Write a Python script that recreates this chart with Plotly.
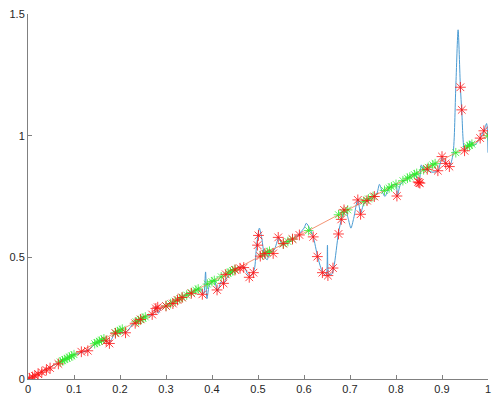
import plotly.graph_objects as go

# Blue interpolated curve (knots)
curve_x = [0.0, 0.05, 0.1, 0.13, 0.15, 0.165, 0.175, 0.185, 0.19, 0.205, 0.215, 0.23, 0.26,
           0.272, 0.278, 0.283, 0.29, 0.32, 0.35, 0.375, 0.382, 0.386, 0.389, 0.395, 0.405,
           0.412, 0.42, 0.425, 0.43, 0.45, 0.46, 0.47, 0.478, 0.485, 0.492, 0.497, 0.503,
           0.508, 0.515, 0.52, 0.525, 0.535, 0.545, 0.553, 0.56, 0.58, 0.60, 0.605, 0.612,
           0.62, 0.63, 0.64, 0.648, 0.651, 0.654, 0.66, 0.665, 0.675, 0.682, 0.69, 0.696,
           0.702, 0.708, 0.717, 0.723, 0.73, 0.74, 0.75, 0.758, 0.764, 0.77, 0.776, 0.785,
           0.80, 0.803, 0.81, 0.84, 0.85, 0.855, 0.86, 0.868, 0.878, 0.891, 0.90, 0.908,
           0.916, 0.924, 0.930, 0.935, 0.940, 0.943, 0.949, 0.955, 0.962, 0.97, 0.983, 0.991,
           0.997, 1.0]
curve_y = [0.0, 0.05, 0.1, 0.118, 0.15, 0.16, 0.145, 0.175, 0.19, 0.19, 0.195, 0.23, 0.26,
           0.265, 0.30, 0.27, 0.29, 0.32, 0.35, 0.37, 0.35, 0.44, 0.33, 0.39, 0.405,
           0.36, 0.40, 0.39, 0.41, 0.45, 0.46, 0.46, 0.43, 0.425, 0.45, 0.55, 0.62,
           0.58, 0.50, 0.49, 0.52, 0.53, 0.58, 0.55, 0.56, 0.58, 0.62, 0.64, 0.62,
           0.585, 0.50, 0.44, 0.425, 0.55, 0.43, 0.43, 0.46, 0.60, 0.66, 0.695, 0.66,
           0.62, 0.66, 0.74, 0.68, 0.72, 0.735, 0.75, 0.76, 0.80, 0.77, 0.75, 0.785,
           0.80, 0.75, 0.80, 0.84, 0.81, 0.88, 0.86, 0.86, 0.85, 0.855, 0.91, 0.885,
           0.872, 0.925, 1.2, 1.435, 1.2, 1.1, 0.94, 0.955, 0.975, 0.96, 0.99, 1.02,
           1.05, 0.93]

# Reference diagonal
diag_x = [0.0, 1.0]
diag_y = [0.0, 1.0]

# Green samples (on the diagonal)
green_x = [0.07, 0.075, 0.08, 0.085, 0.09, 0.095, 0.1, 0.145, 0.15, 0.155, 0.16, 0.165,
           0.19, 0.195, 0.2, 0.205, 0.235, 0.24, 0.245, 0.25, 0.255, 0.30, 0.31, 0.32,
           0.33, 0.335, 0.345, 0.355, 0.365, 0.37, 0.39, 0.40, 0.405, 0.42, 0.435, 0.44,
           0.445, 0.45, 0.51, 0.52, 0.525, 0.555, 0.565, 0.575, 0.61, 0.675, 0.685, 0.695,
           0.73, 0.74, 0.75, 0.775, 0.785, 0.79, 0.80, 0.815, 0.825, 0.83, 0.84, 0.845,
           0.86, 0.87, 0.88, 0.885, 0.93, 0.955, 0.96, 0.965, 1.0]
green_y = list(green_x)

# Red samples
red_x = [0.003, 0.01, 0.015, 0.022, 0.03, 0.04, 0.048, 0.066, 0.116, 0.13, 0.17, 0.177,
         0.19, 0.212, 0.233, 0.245, 0.27, 0.278, 0.282, 0.30, 0.315, 0.325, 0.335, 0.355,
         0.379, 0.411, 0.425, 0.43, 0.45, 0.461, 0.469, 0.481, 0.49, 0.499, 0.501, 0.505,
         0.515, 0.533, 0.544, 0.555, 0.575, 0.59, 0.62, 0.629, 0.64, 0.652, 0.663, 0.675,
         0.681, 0.687, 0.717, 0.723, 0.737, 0.753, 0.802, 0.848, 0.85, 0.852, 0.868, 0.891,
         0.90, 0.908, 0.916, 0.94, 0.943, 0.949, 0.983, 0.991]
red_y = [0.003, 0.008, 0.013, 0.02, 0.028, 0.037, 0.045, 0.062, 0.112, 0.116, 0.157, 0.146,
         0.188, 0.19, 0.229, 0.245, 0.265, 0.29, 0.295, 0.30, 0.31, 0.325, 0.335, 0.352,
         0.348, 0.366, 0.393, 0.43, 0.448, 0.455, 0.458, 0.418, 0.437, 0.55, 0.59, 0.505,
         0.516, 0.516, 0.582, 0.557, 0.575, 0.592, 0.584, 0.503, 0.437, 0.425, 0.456, 0.596,
         0.656, 0.695, 0.736, 0.677, 0.733, 0.75, 0.752, 0.81, 0.807, 0.805, 0.862, 0.856,
         0.914, 0.886, 0.873, 1.199, 1.106, 0.938, 0.99, 1.02]

x_ticks = [0, 0.1, 0.2, 0.3, 0.4, 0.5, 0.6, 0.7, 0.8, 0.9, 1]
x_labels = ["0", "0.1", "0.2", "0.3", "0.4", "0.5", "0.6", "0.7", "0.8", "0.9", "1"]
y_ticks = [0, 0.5, 1, 1.5]
y_labels = ["0", "0.5", "1", "1.5"]

fig = go.Figure()
fig.add_trace(go.Scatter(x=curve_x, y=curve_y, mode="lines",
                         line=dict(color="#4a9bd3", width=1, shape="spline", smoothing=0.7),
                         hoverinfo="skip"))
fig.add_trace(go.Scatter(x=diag_x, y=diag_y, mode="lines",
                         line=dict(color="rgba(240,120,80,0.8)", width=1), hoverinfo="skip"))
fig.add_trace(go.Scatter(x=green_x, y=green_y, mode="markers",
                         marker=dict(symbol="asterisk-open", size=8,
                                     color="rgba(40,235,40,0.75)",
                                     line=dict(color="rgba(40,235,40,0.75)", width=1))))
fig.add_trace(go.Scatter(x=red_x, y=red_y, mode="markers",
                         marker=dict(symbol="asterisk-open", size=9,
                                     color="rgba(255,20,20,0.8)",
                                     line=dict(color="rgba(255,20,20,0.8)", width=1))))

axis_font = dict(family="Liberation Sans, Arial, sans-serif", size=11, color="#262626")
fig.update_layout(
    width=494, height=399,
    margin=dict(l=28, r=3, t=14, b=20),
    paper_bgcolor="white", plot_bgcolor="white",
    showlegend=False,
    xaxis=dict(range=[0, 1], tickvals=x_ticks, ticktext=x_labels, ticks="inside",
               ticklen=4, tickcolor="#808080", showline=True, linecolor="#808080",
               linewidth=1, showgrid=False, zeroline=False, tickfont=axis_font,
               ticklabeloverflow="allow"),
    yaxis=dict(range=[0, 1.5], tickvals=y_ticks, ticktext=y_labels, ticks="inside",
               ticklen=4, tickcolor="#808080", showline=True, linecolor="#808080",
               linewidth=1, showgrid=False, zeroline=False, tickfont=axis_font,
               ticklabeloverflow="allow"),
)
fig.write_html("out.html",
               config={"displayModeBar": False},
               post_script="document.body.style.margin='0';document.body.style.overflow='hidden';")
